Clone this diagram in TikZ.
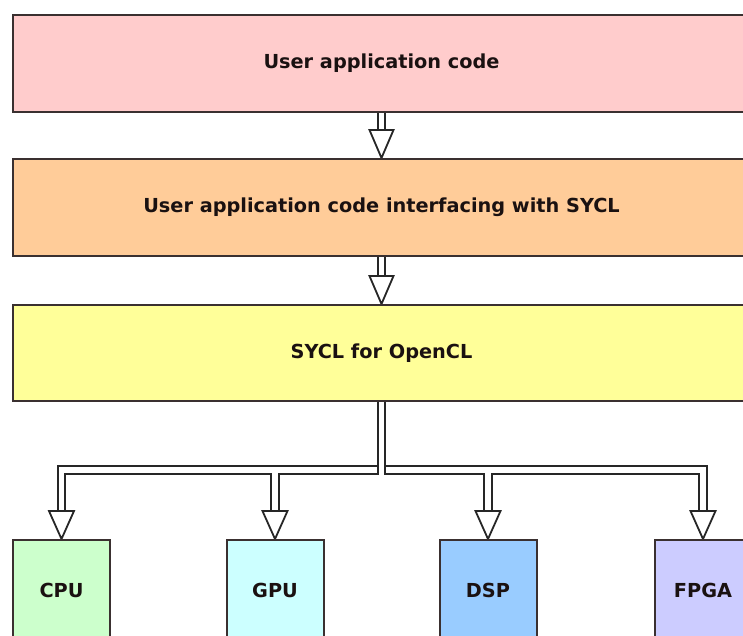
\documentclass[tikz,border=0pt]{standalone}
\usepackage{fontspec}
\setmainfont{DejaVu Sans}
\usetikzlibrary{calc,backgrounds}
\definecolor{pinkbox}{HTML}{FFCCCC}
\definecolor{orangebox}{HTML}{FFCC99}
\definecolor{yellowbox}{HTML}{FFFF99}
\definecolor{cpucol}{HTML}{CCFFCC}
\definecolor{gpucol}{HTML}{CCFFFF}
\definecolor{dspcol}{HTML}{99CCFF}
\definecolor{fpgacol}{HTML}{CCCCFF}
\definecolor{bordercol}{HTML}{3A3030}
\definecolor{textcol}{HTML}{1A1111}
\definecolor{linecol}{HTML}{262626}
\begin{document}
\begin{tikzpicture}[x=1pt,y=-1pt,
  box/.style={draw=bordercol, line width=2pt, inner sep=0pt,
    font=\bfseries\fontsize{19.3}{23}\selectfont, text=textcol},
  widebox/.style={box, minimum width=737pt, minimum height=97pt},
  devbox/.style={box, minimum width=97pt, minimum height=100pt},
  shaftout/.style={line width=9.5pt, draw=linecol, line join=miter},
  shaftin/.style={line width=5.5pt, draw=white, line join=miter},
  headtri/.style={fill=white, draw=linecol, line width=1.8pt, line join=miter}]
\useasboundingbox (0,0) rectangle (743,635);
\clip (0,0) rectangle (743,635);

\node[widebox, fill=pinkbox] (b1) at (381.5,63.5) {User application code};
\node[widebox, fill=orangebox] (b2) at (381.5,207.5) {User application code interfacing with SYCL};
\node[widebox, fill=yellowbox, minimum height=96pt] (b3) at (381.5,353) {SYCL for OpenCL};

\node[devbox, fill=cpucol] (cpu) at (61.5,590) {CPU};
\node[devbox, fill=gpucol] (gpu) at (275,590) {GPU};
\node[devbox, fill=dspcol] (dsp) at (488,590) {DSP};
\node[devbox, fill=fpgacol] (fpga) at (703,590) {FPGA};

\coordinate (bus) at (381.5,470);

\begin{scope}[on background layer]
  % top arrows
  \draw[shaftout] (b1.south) -- ($(b2.north)+(0,-27)$);
  \draw[shaftin]  (b1.south) -- ($(b2.north)+(0,-27)$);
  \draw[headtri] (b2.north) -- ++(-12,-28) -- ++(24,0) -- cycle;

  \draw[shaftout] (b2.south) -- ($(b3.north)+(0,-27)$);
  \draw[shaftin]  (b2.south) -- ($(b3.north)+(0,-27)$);
  \draw[headtri] (b3.north) -- ++(-12,-28) -- ++(24,0) -- cycle;

  % bus, outer pass
  \draw[shaftout] ($(cpu.north)+(0,-27)$) |- (bus) -| ($(fpga.north)+(0,-27)$);
  \draw[shaftout] (gpu.north |- bus) -- ($(gpu.north)+(0,-27)$);
  \draw[shaftout] (dsp.north |- bus) -- ($(dsp.north)+(0,-27)$);
  % bus, inner pass
  \draw[shaftin] ($(cpu.north)+(0,-27)$) |- (bus) -| ($(fpga.north)+(0,-27)$);
  \draw[shaftin] (gpu.north |- bus) -- ($(gpu.north)+(0,-27)$);
  \draw[shaftin] (dsp.north |- bus) -- ($(dsp.north)+(0,-27)$);
  % trunk
  \draw[shaftout] (b3.south) -- ($(bus)+(0,4.5)$);
  \draw[shaftin]  (b3.south) -- ($(bus)+(0,4.5)$);
  % heads
  \foreach \t in {cpu,gpu,dsp,fpga}
    \draw[headtri] (\t.north) -- ++(-12.5,-28) -- ++(25,0) -- cycle;
\end{scope}
\end{tikzpicture}
\end{document}
